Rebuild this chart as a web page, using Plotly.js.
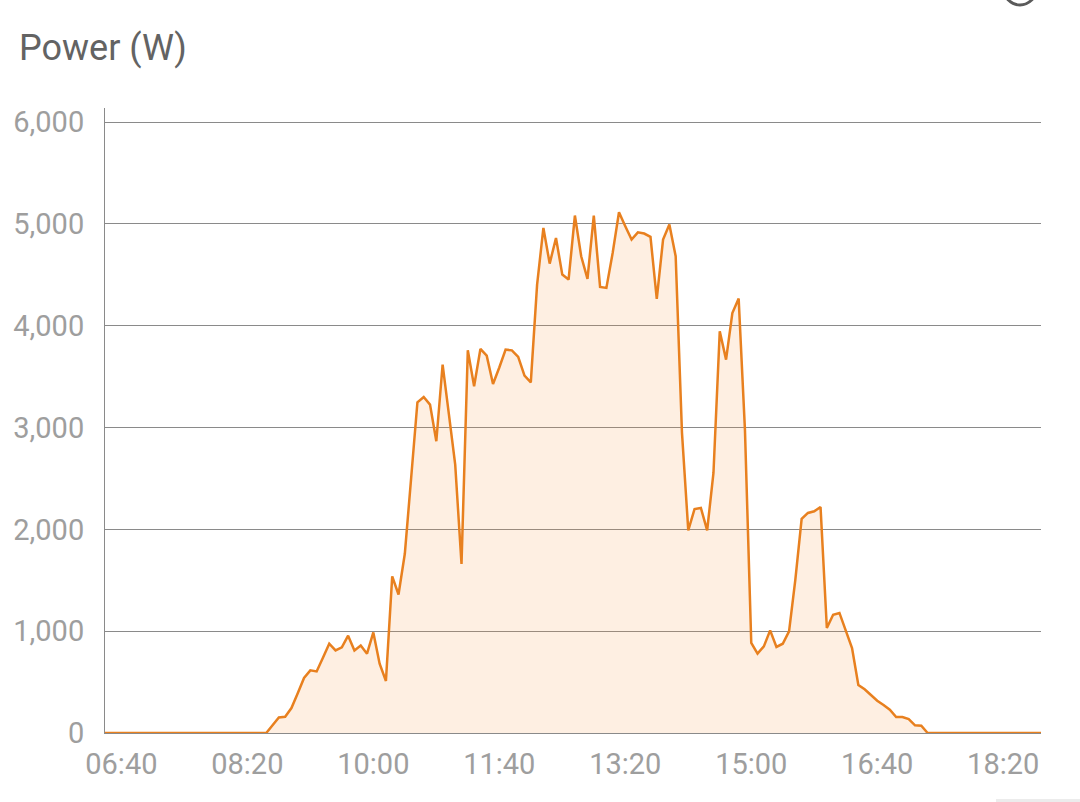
<!DOCTYPE html>
<html>
<head>
<meta charset="utf-8">
<script src="https://cdn.plot.ly/plotly-3.0.1.min.js"></script>
<style>
  html, body { margin: 0; padding: 0; background: #ffffff; }
  #chart { width: 1080px; height: 802px; }
</style>
</head>
<body>
<div id="chart"></div>
<script>
// 5-minute samples starting at 06:25
const startTime = '2024-01-01 06:25:00';
const stepMinutes = 5;

const powerW = [
  // 06:25 - 08:35
  0, 0, 0, 0, 0, 0, 0, 0, 0, 0, 0, 0, 0, 0, 0, 0, 0, 0, 0, 0, 0, 0, 0, 0, 0, 0, 0,
  // 08:40 - 09:55
  76, 153, 160, 245, 390, 540, 615, 605, 740, 877, 811, 841, 956, 811, 860, 779,
  // 10:00 - 10:55
  988, 680, 511, 1538, 1360, 1760, 2500, 3248, 3300, 3225, 2865, 3618,
  // 11:00 - 11:55
  3130, 2636, 1660, 3758, 3405, 3772, 3706, 3428, 3590, 3765, 3758, 3693,
  // 12:00 - 12:55
  3510, 3444, 4404, 4960, 4610, 4862, 4502, 4453, 5082, 4682, 4460, 5082,
  // 13:00 - 13:55
  4381, 4371, 4715, 5114, 4977, 4846, 4917, 4905, 4872, 4263, 4846, 4993,
  // 14:00 - 14:55
  4682, 2950, 1990, 2200, 2210, 1990, 2554, 3945, 3667, 4125, 4266, 2975,
  // 15:00 - 15:55
  884, 779, 851, 1008, 845, 877, 998, 1506, 2102, 2161, 2177, 2220,
  // 16:00 - 16:55
  1031, 1162, 1179, 1015, 835, 472, 429, 373, 317, 275, 229, 157,
  // 17:00 - 17:55
  157, 137, 75, 72, 0, 0, 0, 0, 0, 0, 0, 0,
  // 18:00 - 18:55
  0, 0, 0, 0, 0, 0, 0, 0, 0, 0, 0, 0
];

const yTickVals = [0, 1000, 2000, 3000, 4000, 5000, 6000];
const yTickText = ['0', '1,000', '2,000', '3,000', '4,000', '5,000', '6,000'];
const xRange = ['2024-01-01 06:27:00', '2024-01-01 18:50:00'];
const xTick0 = '2024-01-01 06:40:00';

function pad(n) { return (n < 10 ? '0' : '') + n; }
const t0 = new Date(startTime.replace(' ', 'T'));
const times = powerW.map(function (_, i) {
  const d = new Date(t0.getTime() + i * stepMinutes * 60000);
  return '2024-01-01 ' + pad(d.getHours()) + ':' + pad(d.getMinutes()) + ':00';
});

// plot-area pixel helpers for decorative shapes
const L = 105, R = 1041, T = 108, B = 733;
function px(x) { return (x - L) / (R - L); }
function py(y) { return (B - y) / (B - T); }

const trace = {
  type: 'scatter',
  mode: 'lines',
  x: times,
  y: powerW,
  fill: 'tozeroy',
  fillcolor: 'rgba(250,150,60,0.15)',
  line: { color: '#e8801f', width: 2.5, shape: 'linear' },
  hoverinfo: 'skip'
};

const layout = {
  width: 1080,
  height: 802,
  paper_bgcolor: '#ffffff',
  plot_bgcolor: '#ffffff',
  margin: { l: L, r: 1080 - R, t: T, b: 802 - B },
  showlegend: false,
  font: { family: 'Roboto, sans-serif', color: '#9e9e9e' },
  title: {
    text: 'Power (W)',
    font: { family: 'Roboto, sans-serif', size: 36, color: '#636363' },
    xref: 'container', x: 19 / 1080, xanchor: 'left',
    yref: 'container', y: 1 - 47 / 802, yanchor: 'middle'
  },
  xaxis: {
    type: 'date',
    range: xRange,
    tick0: xTick0,
    dtick: 100 * 60000,
    tickformat: '%H:%M',
    showgrid: false,
    zeroline: false,
    showline: true,
    linecolor: '#8a8a8a',
    linewidth: 1,
    ticks: '',
    ticklabelstandoff: 5,
    tickfont: { family: 'Roboto, sans-serif', size: 29, color: '#9e9e9e' },
    fixedrange: true
  },
  yaxis: {
    range: [0, 6138],
    tickvals: yTickVals,
    ticktext: yTickText,
    showgrid: true,
    gridcolor: '#8a8a8a',
    gridwidth: 1,
    zeroline: false,
    showline: true,
    linecolor: '#8a8a8a',
    linewidth: 1,
    ticks: '',
    ticklabelstandoff: 14,
    tickfont: { family: 'Roboto, sans-serif', size: 29, color: '#9e9e9e' },
    fixedrange: true
  },
  shapes: [
    {
      type: 'circle', xref: 'paper', yref: 'paper',
      x0: px(1004), x1: px(1036), y0: py(5), y1: py(-27),
      line: { color: '#5a5a5a', width: 3 }
    },
    {
      type: 'rect', xref: 'paper', yref: 'paper',
      x0: px(996), x1: px(1081), y0: py(799), y1: py(803),
      line: { width: 0 }, fillcolor: '#ececec'
    }
  ]
};

Plotly.newPlot('chart', [trace], layout, { staticPlot: true, displayModeBar: false });
</script>
</body>
</html>
